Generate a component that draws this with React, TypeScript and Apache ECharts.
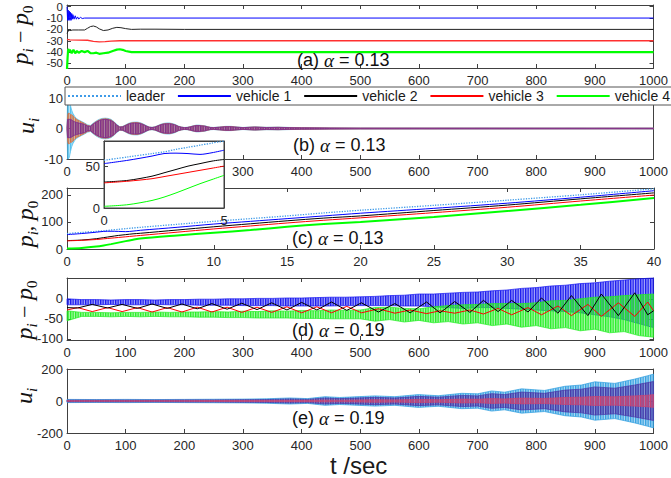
import React, { useEffect, useRef } from 'react';
import * as echarts from 'echarts';

// ---------------- tick values ----------------
const yTicksA = [-50, -40, -30, -20, -10, 0];
const yLabelsA1 = [0, -20, -40];
const yLabelsA2 = [-10, -30, -50];
const yTicksB = [-10, 0, 10];
const yTicksC = [0, 100, 200];
const yTicksD = [-100, -50, 0];
const yTicksE = [-200, 0, 200];
const yTicksInset = [0, 50];

// ---------------- panel (a): p_i - p_0, alpha = 0.13 ----------------
const aBlueT = [0, 1, 2, 3, 4, 5, 6, 7, 8, 9, 10, 12, 14, 16, 18, 20, 23, 26, 30, 1000];
const aBlueV = [0, -12, -3, -12, -4, -12, -5, -12, -6, -11, -7, -11, -8, -11, -9, -10.8, -9.4, -10.4, -10, -10];
const aBlackT = [0, 3, 5, 10, 20, 30, 35, 40, 45, 50, 55, 62, 70, 78, 85, 92, 100, 110, 125, 150, 200, 1000];
const aBlackV = [-23.5, -20.5, -21, -20.5, -20.5, -20.5, -19, -17.5, -17, -17.8, -19.5, -21, -20.5, -19, -18.2, -18.5, -19.3, -20, -19.8, -19.8, -20, -20];
const aRedT = [0, 5, 20, 35, 45, 55, 65, 75, 90, 110, 1000];
const aRedV = [-28.8, -29.2, -29.4, -29.6, -30.5, -31, -30.8, -30.3, -30, -30, -30];
const aGreenT = [0, 1, 2, 3, 5, 8, 11, 14, 17, 20, 25, 30, 35, 40, 45, 50, 55, 62, 70, 78, 85, 90, 95, 100, 110, 125, 150, 1000];
const aGreenV = [-55, -45, -37, -40, -38, -41, -38, -41, -39, -40.5, -39, -40, -39, -41, -41, -40.5, -41.5, -41, -40.5, -39, -37.8, -37.5, -38, -39, -40, -40, -40, -40];

// ---------------- panel (b): u_i envelopes, alpha = 0.13 ----------------
const bT = [0, 1, 2, 4, 6, 8, 10, 13, 16, 20, 25, 30, 35, 40, 45, 50, 55, 60, 65, 70, 75, 80, 85, 90, 95, 100, 105, 110, 115, 120, 125, 130, 135, 140, 145, 150, 155, 160, 165, 170, 175, 180, 185, 190, 195, 200, 205, 210, 215, 220, 225, 230, 235, 240, 245, 250, 260, 270, 280, 290, 300, 320, 340, 360, 380, 400, 450, 500, 1000];
const bOuter = [0, 10, 10, 9.5, 7.5, 6, 5, 4, 3.3, 2.8, 2.3, 1.8, 1.2, 1.0, 1.8, 2.5, 3.0, 3.3, 3.4, 3.3, 3.0, 2.3, 1.3, 0.6, 0.7, 1.2, 1.7, 2.0, 2.1, 2.1, 1.9, 1.5, 1.0, 0.5, 0.4, 0.6, 1.0, 1.4, 1.7, 1.8, 1.8, 1.6, 1.3, 0.8, 0.5, 0.35, 0.4, 0.6, 0.9, 1.1, 1.1, 1.0, 0.9, 0.6, 0.4, 0.35, 0.5, 0.7, 0.7, 0.5, 0.35, 0.55, 0.4, 0.45, 0.35, 0.3, 0.2, 0.15, 0.12];
const bOrange = [0, 4, 5, 5, 4.5, 4.5, 4.2, 3.6, 3.0, 2.6, 2.1, 1.6, 1.0, 0.8, 1.6, 2.3, 2.8, 3.1, 3.2, 3.1, 2.8, 2.1, 1.1, 0.5, 0.6, 1.1, 1.55, 1.85, 1.95, 1.95, 1.75, 1.35, 0.85, 0.45, 0.35, 0.5, 0.9, 1.3, 1.55, 1.65, 1.65, 1.45, 1.15, 0.7, 0.45, 0.3, 0.35, 0.55, 0.8, 1.0, 1.0, 0.9, 0.8, 0.55, 0.35, 0.3, 0.45, 0.62, 0.62, 0.45, 0.3, 0.5, 0.35, 0.4, 0.3, 0.26, 0.18, 0.13, 0.1];
const bPurple = [0, 3, 3, 3, 3, 2.8, 2.5, 2.2, 2.0, 1.8, 1.6, 1.3, 0.8, 0.7, 1.5, 2.1, 2.6, 2.9, 3.0, 2.9, 2.6, 2.0, 1.1, 0.45, 0.55, 1.0, 1.45, 1.7, 1.8, 1.8, 1.6, 1.3, 0.8, 0.4, 0.3, 0.45, 0.85, 1.2, 1.45, 1.55, 1.55, 1.4, 1.1, 0.65, 0.4, 0.28, 0.32, 0.5, 0.75, 0.95, 0.95, 0.85, 0.75, 0.5, 0.3, 0.28, 0.4, 0.58, 0.58, 0.4, 0.28, 0.45, 0.3, 0.36, 0.28, 0.22, 0.16, 0.12, 0.1];

// ---------------- panel (c): p_i, p_0 over 0..40 s ----------------
const cT = [0, 1, 2, 2.5, 3, 3.5, 4, 4.5, 5, 7.5, 10, 12.5, 15, 17.5, 20, 25, 30, 35, 40];
const cLeader = [57, 61, 65, 67, 70, 72.5, 75, 77.5, 80, 91, 102, 112, 122, 133, 143, 161, 180, 200, 222];
const cV1 = [53, 57, 62, 65, 65.5, 65, 64, 66, 69, 80, 92, 102, 112, 122, 132, 150, 169, 191, 215];
const cV2 = [31, 33, 38, 42, 46, 50, 53, 56, 58, 70, 82, 93, 104, 114, 122, 142, 162, 185, 207];
const cV3 = [30, 32, 35, 37.5, 40, 42.5, 45, 47.5, 50, 62, 74, 85, 96, 106, 115, 134, 154, 177, 199];
const cV4 = [2, 4, 9, 13, 18, 23.5, 29, 34, 39, 50, 60, 70, 82, 92, 100, 118, 140, 163, 188];

// ---------------- panel (d): p_i - p_0, alpha = 0.19 ----------------
const dT = [0, 25, 50, 75, 100, 125, 150, 175, 200, 225, 250, 275, 300, 325, 350, 375, 400, 425, 450, 475, 500, 525, 550, 575, 600, 625, 650, 675, 700, 725, 750, 775, 800, 825, 850, 875, 900, 925, 950, 975, 1000];
const dBlueHi = [0, -2, -2, -3, -2, -2, -3, -2, -2, -1, -1, 0, 0, 1, 1, 2, 2, 3, 4, 4, 5, 6, 8, 9, 12, 12, 14, 16, 17, 20, 22, 26, 28, 32, 34, 38, 40, 44, 47, 50, 52];
const dBlueLo = [-15, -15, -15, -14, -15, -15, -14, -15, -15, -16, -16, -16, -17, -17, -17, -18, -18, -18, -18, -17, -17, -17, -17, -18, -18, -20, -22, -24, -22, -22, -24, -26, -28, -30, -32, -35, -40, -45, -52, -62, -72];
const dGreenHi = [-30, -34, -34, -35, -34, -34, -33, -34, -33, -33, -32, -33, -31, -32, -30, -31, -29, -30, -28, -29, -28, -22, -21, -24, -25, -20, -17, -15, -14, -12, -12, -12, -10, -5, -4, 0, 4, 5, 8, 10, 12];
const dGreenLo = [-55, -44, -44, -45, -44, -45, -44, -45, -45, -46, -46, -47, -47, -48, -48, -48, -49, -49, -50, -50, -50, -56, -52, -58, -54, -60, -57, -63, -60, -67, -63, -71, -67, -75, -72, -80, -76, -85, -82, -92, -96];
const dWaveT = [0, 18, 43, 69, 94, 120, 145, 171, 196, 222, 247, 273, 298, 324, 349, 375, 400, 426, 451, 477, 502, 531, 559, 585, 613, 636, 661, 687, 710, 735, 758, 786, 809, 837, 860, 888, 911, 940, 968, 990, 1000];
const dBlack = [-22, -23, -14, -23, -14, -24, -13, -24, -13, -25, -12, -26, -11, -27, -10, -28, -9, -28, -8, -29, -10, -33, -12, -35, -8, -35, -7, -34, -4, -32, -4, -33, 2, -36, 8, -42, 12, -42, 15, -40, -30];
const dRed = [-28, -22, -32, -22, -32, -22, -33, -22, -33, -21, -33, -21, -34, -21, -34, -20, -35, -20, -35, -19, -35, -25, -36, -28, -37, -30, -36, -28, -38, -24, -40, -22, -40, -18, -42, -14, -44, -10, -44, -8, -30];

// ---------------- panel (e): u_i envelopes, alpha = 0.19 ----------------
const eT = [0, 50, 100, 150, 200, 250, 300, 340, 380, 410, 440, 465, 491, 525, 559, 599, 633, 673, 700, 724, 746, 775, 814, 849, 877, 900, 934, 968, 990, 1000];
const eOuter = [10, 9, 10, 9, 10, 11, 12, 14, 19, 15, 27, 22, 26, 32, 27, 40, 33, 48, 45, 63, 55, 76, 66, 92, 100, 120, 110, 137, 158, 168];
const eMid = [6, 6, 6, 6, 7, 7, 8, 9, 13, 10, 19, 15, 18, 23, 19, 29, 24, 35, 32, 46, 40, 56, 48, 68, 74, 88, 80, 100, 115, 122];
const eInner = [2, 2, 2, 2, 2, 3, 3, 3, 4, 4, 6, 5, 6, 8, 7, 10, 8, 12, 11, 15, 13, 18, 16, 22, 24, 28, 26, 32, 36, 40];

// ---------------- styling ----------------
const FONT = '"Liberation Sans", Arial, sans-serif';
const MATH = '"Liberation Serif", "DejaVu Serif", serif';
const AX = '#404040';
const LBL = '#262626';
const COL = { leader: '#3F9BE8', v1: '#0000FF', v2: '#000000', v3: '#FF0000', v4: '#00FF00' };

const grids = [
  { left: 67, top: 5, width: 587, height: 63 },
  { left: 67, top: 98, width: 587, height: 61 },
  { left: 67, top: 188, width: 587, height: 61 },
  { left: 67, top: 278, width: 587, height: 62 },
  { left: 67, top: 369, width: 587, height: 64 },
  { left: 104, top: 141, width: 120, height: 67 },
];

const zip = (t: number[], v: number[]) => t.map((x, i) => [x, v[i]]);
const neg = (v: number[]) => v.map((x) => -x);

function stripes(color: string): any {
  try {
    const c = document.createElement('canvas');
    c.width = 5;
    c.height = 4;
    const ctx = c.getContext('2d');
    if (!ctx) return color;
    ctx.fillStyle = color;
    ctx.fillRect(0, 0, 2, 4);
    ctx.globalAlpha = 0.75;
    ctx.fillRect(2, 0, 2, 4);
    return { image: c, repeat: 'repeat', imageWidth: 5, imageHeight: 4, scaleX: 0.5, scaleY: 0.5 };
  } catch (e) {
    return color;
  }
}

const labelFmt = (v: number) => String(v);

function xPair(gi: number, min: number, max: number, interval: number, z = 0) {
  const common: any = {
    type: 'value', gridIndex: gi, min, max, interval, z,
    splitLine: { show: false },
    axisLine: { show: true, onZero: false, lineStyle: { color: AX, width: 1 } },
    axisTick: { show: true, inside: true, length: 4, lineStyle: { color: AX } },
  };
  return [
    {
      ...common, position: 'bottom',
      axisLabel: { show: true, color: LBL, fontSize: 13, fontFamily: FONT, margin: 6, formatter: labelFmt, showMinLabel: true, showMaxLabel: true, hideOverlap: false },
    },
    { ...common, position: 'top', axisLabel: { show: false } },
  ];
}

function yLabelStyle(values: number[], fontSize = 13) {
  return {
    show: true, customValues: values, color: LBL, fontSize, lineHeight: fontSize, fontFamily: FONT, margin: 4,
    formatter: labelFmt, showMinLabel: true, showMaxLabel: true, hideOverlap: false,
  };
}

function yPair(gi: number, min: number, max: number, ticks: number[], z = 0, labels: number[] = ticks, fontSize = 13) {
  const common: any = {
    type: 'value', gridIndex: gi, min, max, z,
    splitLine: { show: false },
    axisLine: { show: true, onZero: false, lineStyle: { color: AX, width: 1 } },
    axisTick: { show: true, inside: true, length: 4, customValues: ticks, lineStyle: { color: AX } },
  };
  return [
    { ...common, position: 'left', axisLabel: yLabelStyle(labels, fontSize) },
    { ...common, position: 'right', axisLabel: { show: false } },
  ];
}

function yLabelsOnly(gi: number, min: number, max: number, labels: number[], fontSize = 13) {
  return {
    type: 'value', gridIndex: gi, min, max, position: 'left', offset: 0,
    splitLine: { show: false },
    axisLine: { show: false, onZero: false },
    axisTick: { show: false },
    axisLabel: yLabelStyle(labels, fontSize),
  };
}

function line(name: string, ai: number, data: number[][], color: string, width: number, extra: any = {}) {
  return {
    type: 'line', name, xAxisIndex: ai, yAxisIndex: ai, data,
    showSymbol: false, symbol: 'none', silent: true,
    lineStyle: { color, width, ...(extra.lineStyle || {}) },
    itemStyle: { color },
    z: extra.z ?? 2,
    smooth: extra.smooth ?? false,
  };
}

function band(name: string, ai: number, t: number[], lo: number[], hi: number[], color: string, z: number, edge = 0.7) {
  const fill = stripes(color);
  return {
    type: 'custom', name, xAxisIndex: ai, yAxisIndex: ai, z, silent: true,
    data: t.map((x, i) => [x, lo[i], hi[i]]),
    renderItem: (params: any, api: any) => {
      if (params.dataIndex !== 0) return null;
      const pts: number[][] = [];
      for (let i = 0; i < t.length; i++) pts.push(api.coord([t[i], hi[i]]));
      for (let i = t.length - 1; i >= 0; i--) pts.push(api.coord([t[i], lo[i]]));
      return {
        type: 'polygon',
        shape: { points: pts },
        style: { fill, stroke: color, lineWidth: edge },
      };
    },
  };
}

function yName(x: number, y: number, text: string) {
  return {
    type: 'text', x, y, rotation: Math.PI / 2, z: 20,
    style: {
      text, align: 'center', verticalAlign: 'middle',
      rich: {
        m: { fontFamily: MATH, fontStyle: 'italic', fontSize: 24, lineHeight: 30, fill: '#111', verticalAlign: 'middle' },
        n: { fontFamily: MATH, fontSize: 22, lineHeight: 30, fill: '#111', verticalAlign: 'middle' },
        s: { fontFamily: MATH, fontStyle: 'italic', fontSize: 15, lineHeight: 15, fill: '#111', verticalAlign: 'bottom' },
        z: { fontFamily: MATH, fontSize: 15, lineHeight: 15, fill: '#111', verticalAlign: 'bottom' },
      },
    },
  };
}

function note(x: number, y: number, tag: string, alpha: string) {
  return {
    type: 'text', x, y, z: 20,
    style: {
      text: `{n|(${tag}) }{g|α}{n| = ${alpha}}`, verticalAlign: 'middle',
      rich: {
        n: { fontFamily: FONT, fontSize: 18, fill: '#111' },
        g: { fontFamily: MATH, fontStyle: 'italic', fontSize: 19, fill: '#111' },
      },
    },
  };
}

function buildOption(): any {
  const inset = (t: number[], v: number[]) => zip(t, v).filter((p) => p[0] <= 5);
  const xAxis = [
    ...xPair(0, 0, 1000, 100),
    ...xPair(1, 0, 1000, 100),
    ...xPair(2, 0, 40, 5),
    ...xPair(3, 0, 1000, 100),
    ...xPair(4, 0, 1000, 100),
    ...xPair(5, 0, 5, 5, 11),
  ];
  const yAxis = [
    ...yPair(0, -54, 1.5, yTicksA, 0, yLabelsA1, 11.5),
    ...yPair(1, -10, 10, yTicksB),
    ...yPair(2, 0, 225, yTicksC),
    ...yPair(3, -103, 52, yTicksD),
    ...yPair(4, -200, 200, yTicksE),
    ...yPair(5, 0, 80, yTicksInset, 11),
    yLabelsOnly(0, -54, 1.5, yLabelsA2, 11.5),
  ];
  const series: any[] = [
    // (c) first so the legend takes its styles
    line('leader', 4, zip(cT, cLeader), COL.leader, 1.3, { lineStyle: { type: 'dotted' }, smooth: 0.3 }),
    line('vehicle 1', 4, zip(cT, cV1), COL.v1, 1, { smooth: 0.3 }),
    line('vehicle 2', 4, zip(cT, cV2), COL.v2, 1, { smooth: 0.3 }),
    line('vehicle 3', 4, zip(cT, cV3), COL.v3, 1, { smooth: 0.3 }),
    line('vehicle 4', 4, zip(cT, cV4), COL.v4, 2, { smooth: 0.3 }),
    // inset
    line('inset leader', 10, inset(cT, cLeader), COL.leader, 1.3, { lineStyle: { type: 'dotted' }, smooth: 0.3, z: 12 }),
    line('inset vehicle 1', 10, inset(cT, cV1), COL.v1, 1, { smooth: 0.3, z: 12 }),
    line('inset vehicle 2', 10, inset(cT, cV2), COL.v2, 1, { smooth: 0.3, z: 12 }),
    line('inset vehicle 3', 10, inset(cT, cV3), COL.v3, 1, { smooth: 0.3, z: 12 }),
    line('inset vehicle 4', 10, inset(cT, cV4), COL.v4, 1, { smooth: 0.3, z: 12 }),
    // (a)
    line('a vehicle 1', 0, zip(aBlueT, aBlueV), COL.v1, 1),
    line('a vehicle 2', 0, zip(aBlackT, aBlackV), '#222', 1),
    line('a vehicle 3', 0, zip(aRedT, aRedV), '#FF3030', 1.4),
    line('a vehicle 4', 0, zip(aGreenT, aGreenV), COL.v4, 2.2),
    // (b)
    band('b outer', 2, bT, neg(bOuter), bOuter, '#4DBEEE', 2),
    band('b orange', 2, bT, neg(bOrange), bOrange, '#E0703A', 3),
    band('b purple', 2, bT, neg(bPurple), bPurple, '#7E2F8E', 4, 0.9),
    // (d)
    band('d vehicle 1', 6, dT, dBlueLo, dBlueHi, '#1515F0', 2),
    band('d vehicle 4', 6, dT, dGreenLo, dGreenHi, '#22EE22', 3),
    line('d vehicle 3', 6, zip(dWaveT, dRed), COL.v3, 1, { z: 4 }),
    line('d vehicle 2', 6, zip(dWaveT, dBlack), COL.v2, 1, { z: 5 }),
    // (e)
    band('e outer', 8, eT, neg(eOuter), eOuter, '#2F9FE0', 2),
    band('e mid', 8, eT, neg(eMid), eMid, '#4A36A8', 3),
    band('e inner', 8, eT, neg(eInner), eInner, '#CC4470', 4),
  ];

  return {
    animation: false,
    backgroundColor: '#fff',
    grid: grids.map((g) => ({ ...g, containLabel: false })),
    xAxis,
    yAxis,
    legend: {
      data: ['leader', 'vehicle 1', 'vehicle 2', 'vehicle 3', 'vehicle 4'],
      left: 65, top: 87, width: 640,
      itemWidth: 53, itemHeight: 12, itemGap: 12,
      padding: [2, 4, 2, 2],
      borderColor: '#555', borderWidth: 1, backgroundColor: '#fff',
      itemStyle: { opacity: 0 },
      textStyle: { fontFamily: FONT, fontSize: 14, color: '#1a1a1a' },
      selectedMode: false, z: 6,
    },
    graphic: [
      { type: 'rect', z: 10, shape: { x: 104, y: 141, width: 120, height: 67 }, style: { fill: '#fff', stroke: AX, lineWidth: 1 } },
      yName(20, 35, '{m|p}{s|i}{n| − }{m|p}{z|0}'),
      yName(26, 126, '{m|u}{s|i}'),
      yName(25, 224, '{m|p}{s|i}{n|, }{m|p}{z|0}'),
      yName(24, 310, '{m|p}{s|i}{n| − }{m|p}{z|0}'),
      yName(24, 396, '{m|u}{s|i}'),
      note(297, 60, 'a', '0.13'),
      note(293, 145, 'b', '0.13'),
      note(292, 238, 'c', '0.13'),
      note(292, 330, 'd', '0.19'),
      note(292, 418, 'e', '0.19'),
      { type: 'text', x: 330, y: 465, z: 20, style: { text: 't /sec', fontFamily: FONT, fontSize: 24, fill: '#1a1a1a', verticalAlign: 'middle' } },
    ],
    series,
  };
}

export default function App() {
  const ref = useRef<HTMLDivElement>(null);
  useEffect(() => {
    if (!ref.current) return;
    const chart = echarts.init(ref.current, null, { renderer: 'svg' });
    chart.setOption(buildOption());
    return () => chart.dispose();
  }, []);
  return (
    <div
      ref={ref}
      style={{ position: 'fixed', left: 0, top: 0, width: 671, height: 478, background: '#fff' }}
    />
  );
}
